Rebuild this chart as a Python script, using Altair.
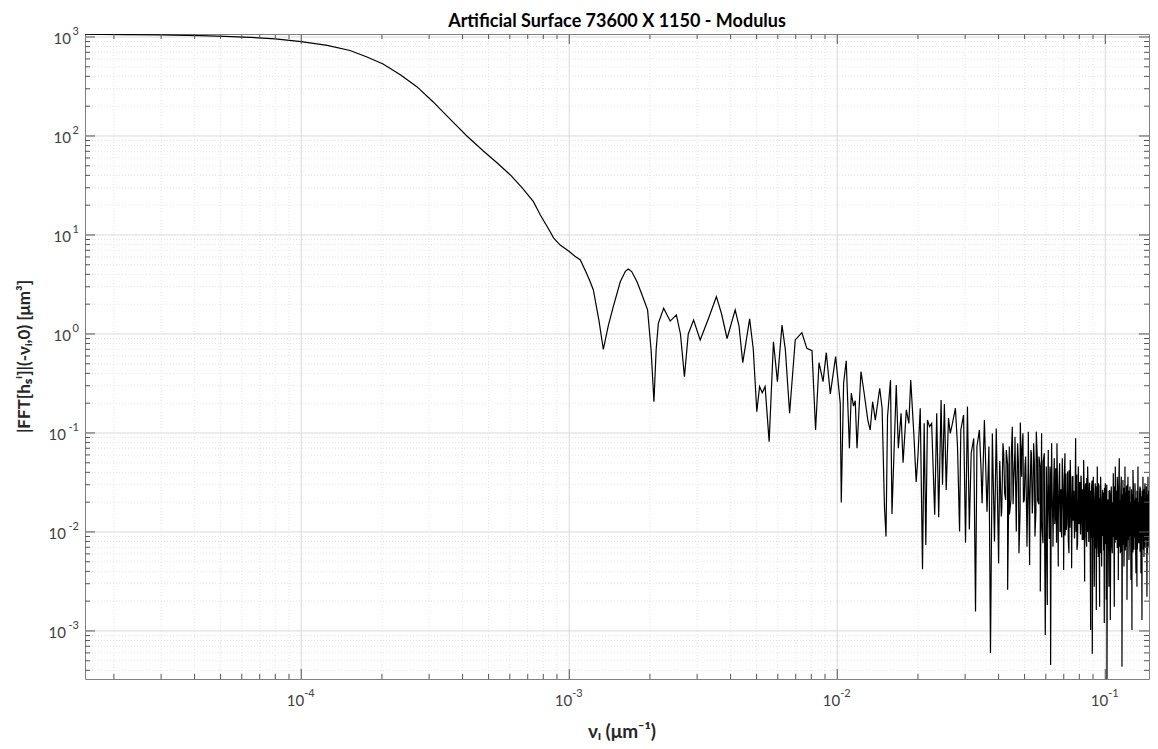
import altair as alt
import pandas as pd

# ---------------- data ----------------
# smooth low-frequency part
nu_smooth = [1.56e-5, 1.78e-5, 2.2e-5, 3.0e-5, 4.2e-5, 5.2e-5, 6.45e-5, 8.0e-5, 1.0e-4,
             1.25e-4, 1.52e-4, 1.75e-4, 2.02e-4, 2.35e-4, 2.70e-4, 3.1e-4, 3.6e-4,
             4.15e-4, 4.78e-4, 5.4e-4, 6.03e-4, 6.7e-4, 7.35e-4, 7.8e-4, 8.28e-4,
             8.75e-4, 9.25e-4, 1.0e-3, 1.05e-3]
mod_smooth = [1066, 1062, 1055, 1048, 1030, 1016, 993, 955, 897,
              824, 730, 632, 534, 413, 315, 222, 147,
              100, 70.5, 53, 40.4, 29.6, 21.7, 15.9, 12.1,
              9.3, 7.9, 6.8, 6.1]

# first oscillations
nu_osc = [1.10e-3, 1.16e-3, 1.197e-3, 1.23e-3, 1.29e-3, 1.34e-3, 1.40e-3, 1.46e-3, 1.55e-3,
          1.62e-3, 1.66e-3, 1.71e-3, 1.79e-3, 1.87e-3, 1.96e-3, 2.02e-3, 2.07e-3, 2.11e-3,
          2.15e-3, 2.25e-3,
          2.38e-3, 2.51e-3, 2.60e-3, 2.69e-3, 2.78e-3, 2.91e-3, 3.08e-3, 3.31e-3, 3.54e-3,
          3.70e-3, 3.88e-3, 4.16e-3, 4.30e-3, 4.44e-3, 4.71e-3, 4.86e-3, 5.01e-3, 5.13e-3,
          5.25e-3, 5.38e-3, 5.57e-3, 5.78e-3, 5.98e-3, 6.22e-3, 6.40e-3, 6.64e-3, 6.97e-3,
          7.38e-3, 7.70e-3, 8.05e-3, 8.30e-3, 8.55e-3, 8.85e-3, 9.10e-3, 9.42e-3, 9.86e-3,
          1.026e-2]
mod_osc = [5.6, 4.1, 3.37, 2.78, 1.38, 0.70, 1.23, 1.89, 3.37,
           4.3, 4.54, 4.27, 3.37, 2.48, 1.75, 0.69, 0.207, 0.7,
           1.28, 1.82,
           1.35, 1.56, 1.0, 0.371, 1.0, 1.38, 0.87, 1.44, 2.38,
           1.6, 0.90, 1.75, 1.2, 0.514, 1.42, 0.7, 0.164, 0.294,
           0.255, 0.294, 0.0817, 0.835, 0.33, 1.23, 0.7, 0.158, 0.87,
           1.03, 0.716, 0.678, 0.107, 0.513, 0.33, 0.647, 0.248, 0.59,
           0.2]

# mid-frequency noise
nu_mid = [1.035e-2, 1.056e-2, 1.08e-2, 1.11e-2, 1.128e-2, 1.15e-2, 1.167e-2, 1.185e-2,
          1.226e-2, 1.26e-2, 1.30e-2, 1.327e-2, 1.355e-2, 1.387e-2, 1.44e-2, 1.47e-2,
          1.50e-2, 1.52e-2, 1.54e-2, 1.58e-2, 1.60e-2, 1.66e-2, 1.69e-2, 1.73e-2,
          1.76e-2, 1.81e-2, 1.85e-2, 1.88e-2, 1.93e-2, 1.97e-2, 2.00e-2, 2.04e-2,
          2.08e-2, 2.11e-2, 2.14e-2, 2.17e-2, 2.21e-2, 2.25e-2, 2.31e-2, 2.35e-2,
          2.39e-2, 2.44e-2, 2.47e-2, 2.51e-2, 2.55e-2, 2.60e-2, 2.64e-2, 2.69e-2,
          2.76e-2, 2.81e-2, 2.86e-2, 2.89e-2, 2.96e-2, 3.01e-2, 3.06e-2, 3.11e-2,
          3.16e-2, 3.23e-2, 3.28e-2, 3.32e-2, 3.39e-2, 3.44e-2, 3.47e-2, 3.54e-2,
          3.62e-2, 3.68e-2, 3.73e-2, 3.79e-2, 3.86e-2, 3.92e-2, 4.00e-2]
mod_mid = [0.0198, 0.318, 0.537, 0.070, 0.252, 0.187, 0.212, 0.070,
           0.416, 0.252, 0.135, 0.107, 0.207, 0.135, 0.283, 0.178,
           0.018, 0.0090, 0.146, 0.343, 0.0152, 0.305, 0.070, 0.158,
           0.050, 0.171, 0.125, 0.343, 0.099, 0.032, 0.058, 0.178,
           0.0042, 0.125, 0.0074, 0.135, 0.116, 0.125, 0.0149, 0.158,
           0.0141, 0.215, 0.030, 0.196, 0.0266, 0.141, 0.099, 0.125,
           0.178, 0.073, 0.0101, 0.107, 0.152, 0.0078, 0.185, 0.0106,
           0.0624, 0.088, 0.00157, 0.073, 0.107, 0.0423, 0.0195, 0.135,
           0.016, 0.073, 0.0006, 0.099, 0.008, 0.111, 0.0048]

# high-frequency noise: resolved spikes
nu_high = [0.04035, 0.04093, 0.04152, 0.04212, 0.04272, 0.04322, 0.04384, 0.04447, 0.04499,
           0.0455, 0.04603, 0.04656, 0.04709, 0.04764, 0.04819, 0.04874, 0.0493, 0.04987,
           0.05045, 0.05103, 0.05161, 0.05221, 0.05281, 0.05342, 0.05404, 0.05466, 0.05529,
           0.05592, 0.05657, 0.05722, 0.05788, 0.05855, 0.05922, 0.05973, 0.06025, 0.06077,
           0.06129, 0.06182, 0.06218, 0.06253, 0.06307, 0.0638, 0.06453, 0.06528, 0.06603,
           0.06679, 0.06756, 0.06834, 0.06913, 0.06992, 0.07073, 0.07154, 0.07237, 0.0732,
           0.07404, 0.0749, 0.07576, 0.07663, 0.07751, 0.07841, 0.07931, 0.08023, 0.08115,
           0.08208, 0.08303, 0.08375, 0.08447, 0.0852, 0.08593, 0.08667, 0.08742, 0.08818,
           0.08894, 0.08945, 0.09022, 0.091, 0.09178, 0.09258, 0.09337, 0.09418, 0.09472,
           0.09527, 0.09609, 0.09692, 0.09775, 0.0986, 0.09888, 0.09916, 0.10002, 0.10088,
           0.10117, 0.10146, 0.10234, 0.10322, 0.10381, 0.10441, 0.10531, 0.10622, 0.10713,
           0.10806, 0.10899, 0.10993, 0.11088, 0.11184, 0.1128, 0.11377, 0.11476, 0.11542,
           0.11641, 0.11742, 0.11843, 0.11945, 0.11996, 0.12048, 0.12152, 0.12257, 0.12363,
           0.12469, 0.12523, 0.12577, 0.12685, 0.12795, 0.12905, 0.13017, 0.13073, 0.13129,
           0.13242, 0.13357, 0.13472, 0.13588, 0.13647, 0.13705, 0.13823, 0.13943, 0.14063,
           0.14184, 0.14245, 0.14307, 0.1443, 0.14555, 0.1468, 0.14807, 0.14935, 0.15064,
           0.15194, 0.15325, 0.15391, 0.15457, 0.1559, 0.15725]
mod_high = [0.0457, 0.0143, 0.0786, 0.0246, 0.0673, 0.0026, 0.0728, 0.021, 0.1158,
            0.031, 0.0918, 0.0101, 0.0786, 0.0061, 0.1272, 0.0362, 0.0992, 0.021,
            0.0577, 0.0071, 0.1031, 0.00464, 0.0673, 0.0154, 0.0786, 0.009, 0.1031,
            0.021, 0.0577, 0.0025, 0.0992, 0.0077, 0.0623, 0.00091, 0.0457, 0.00183,
            0.0673, 0.0143, 0.0457, 0.000453, 0.0786, 0.0071, 0.0555, 0.0167, 0.0786,
            0.00447, 0.0494, 0.0113, 0.0555, 0.00413, 0.0623, 0.0105, 0.0407, 0.0061,
            0.0534, 0.0043, 0.0362, 0.0122, 0.0884, 0.0066, 0.0457, 0.0154, 0.0362,
            0.0083, 0.0534, 0.00315, 0.031, 0.0071, 0.0457, 0.0113, 0.031, 0.00102,
            0.0287, 0.00059, 0.0362, 0.0028, 0.031, 0.00163, 0.0457, 0.0056, 0.0287,
            0.00176, 0.0362, 0.00447, 0.0266, 0.0066, 0.021, 0.0012, 0.031, 0.00206,
            0.018, 0.00025, 0.021, 0.0028, 0.0266, 0.00129, 0.0287, 0.0061, 0.0391,
            0.00176, 0.0457, 0.0083, 0.0362, 0.00327, 0.0555, 0.0061, 0.0362, 0.000436,
            0.0335, 0.00447, 0.0457, 0.0071, 0.0287, 0.00206, 0.0362, 0.0052, 0.0287,
            0.00327, 0.021, 0.00102, 0.0423, 0.0066, 0.031, 0.00382, 0.021, 0.0028,
            0.0457, 0.0077, 0.0287, 0.00382, 0.021, 0.00129, 0.0362, 0.0056, 0.031,
            0.0083, 0.021, 0.00222, 0.0362, 0.0071, 0.0287, 0.00447, 0.0335, 0.0066,
            0.0266, 0.00382, 0.0227, 0.00069, 0.0246, 0.0097]

# high-frequency noise: the dense unresolved band between the spikes
nu_band1 = [0.0404, 0.0411, 0.0418, 0.0425, 0.0432, 0.0439, 0.0446, 0.0453, 0.0460, 0.0467,
            0.0474, 0.0481, 0.0488, 0.0495, 0.0502, 0.0509, 0.0516, 0.0523, 0.0530, 0.0537,
            0.0544, 0.0551, 0.0558, 0.0565, 0.0572, 0.0579, 0.0586, 0.0593]
mod_band1 = [0.052, 0.017, 0.061, 0.021, 0.048, 0.015, 0.058, 0.019, 0.066, 0.023,
             0.050, 0.016, 0.057, 0.020, 0.047, 0.014, 0.055, 0.018, 0.062, 0.022,
             0.049, 0.016, 0.053, 0.019, 0.045, 0.013, 0.051, 0.017]

nu_band2 = [0.0603, 0.0608, 0.0613, 0.0618, 0.0623, 0.0628, 0.0633, 0.0638, 0.0643, 0.0648,
            0.0653, 0.0658, 0.0663, 0.0668, 0.0673, 0.0678, 0.0683, 0.0688, 0.0693, 0.0698,
            0.0703, 0.0708, 0.0713, 0.0718, 0.0723, 0.0728, 0.0733, 0.0738, 0.0743, 0.0748,
            0.0753, 0.0758, 0.0763, 0.0768, 0.0773, 0.0778, 0.0783, 0.0788, 0.0793, 0.0798,
            0.0803, 0.0808, 0.0813, 0.0818, 0.0823, 0.0828, 0.0833, 0.0838, 0.0843, 0.0848,
            0.0853, 0.0858, 0.0863, 0.0868, 0.0873, 0.0878, 0.0883, 0.0888, 0.0893, 0.0898]
mod_band2 = [0.038, 0.011, 0.032, 0.0085, 0.041, 0.014, 0.029, 0.0095, 0.035, 0.012,
             0.044, 0.0078, 0.031, 0.013, 0.036, 0.010, 0.027, 0.0088, 0.040, 0.015,
             0.033, 0.0092, 0.039, 0.012, 0.028, 0.0081, 0.042, 0.011, 0.030, 0.0098,
             0.036, 0.013, 0.026, 0.0086, 0.034, 0.010, 0.038, 0.0075, 0.029, 0.012,
             0.032, 0.0094, 0.037, 0.011, 0.027, 0.0083, 0.033, 0.013, 0.030, 0.0089,
             0.035, 0.010, 0.028, 0.0079, 0.031, 0.012, 0.026, 0.0087, 0.033, 0.0096]

nu_band3 = [0.0903, 0.0908, 0.0913, 0.0918, 0.0923, 0.0928, 0.0933, 0.0938, 0.0943, 0.0948,
            0.0953, 0.0958, 0.0963, 0.0968, 0.0973, 0.0978, 0.0983, 0.0988, 0.0993, 0.0998,
            0.1003, 0.1008, 0.1013, 0.1018, 0.1023, 0.1028, 0.1033, 0.1038, 0.1043, 0.1048,
            0.1053, 0.1058, 0.1063, 0.1068, 0.1073, 0.1078, 0.1083, 0.1088, 0.1093, 0.1098,
            0.1103, 0.1108, 0.1113, 0.1118, 0.1123, 0.1128, 0.1133, 0.1138, 0.1143, 0.1148,
            0.1153, 0.1158, 0.1163, 0.1168, 0.1173, 0.1178, 0.1183, 0.1188, 0.1193, 0.1198,
            0.1203, 0.1208, 0.1213, 0.1218, 0.1223, 0.1228, 0.1233, 0.1238, 0.1243, 0.1248,
            0.1253, 0.1258, 0.1263, 0.1268, 0.1273, 0.1278, 0.1283, 0.1288, 0.1293, 0.1298,
            0.1303, 0.1308, 0.1313, 0.1318, 0.1323, 0.1328, 0.1333, 0.1338, 0.1343, 0.1348,
            0.1353, 0.1358, 0.1363, 0.1368, 0.1373, 0.1378, 0.1383, 0.1388, 0.1393, 0.1398,
            0.1403, 0.1408, 0.1413, 0.1418, 0.1423, 0.1428, 0.1433, 0.1438, 0.1443, 0.1448,
            0.1453, 0.1458, 0.1463, 0.1468, 0.1473, 0.1478, 0.1483, 0.1488, 0.1493, 0.1498,
            0.1503, 0.1508, 0.1513, 0.1518, 0.1523, 0.1528, 0.1533, 0.1538, 0.1543, 0.1548,
            0.1553]
mod_band3 = [0.026, 0.0082, 0.021, 0.0068, 0.029, 0.0095, 0.024, 0.0072, 0.031, 0.0088,
             0.022, 0.0061, 0.027, 0.0079, 0.019, 0.0091, 0.025, 0.0066, 0.028, 0.0075,
             0.024, 0.0085, 0.030, 0.0070, 0.021, 0.0093, 0.026, 0.0064, 0.023, 0.0081,
             0.028, 0.0073, 0.020, 0.0089, 0.025, 0.0067, 0.029, 0.0078, 0.022, 0.0096,
             0.026, 0.0069, 0.023, 0.0084, 0.030, 0.0071, 0.021, 0.0090, 0.027, 0.0063,
             0.024, 0.0080, 0.019, 0.0074, 0.028, 0.0087, 0.022, 0.0065, 0.025, 0.0093,
             0.029, 0.0076, 0.021, 0.0083, 0.026, 0.0068, 0.023, 0.0091, 0.020, 0.0072,
             0.027, 0.0086, 0.024, 0.0062, 0.028, 0.0079, 0.021, 0.0088, 0.025, 0.0070,
             0.022, 0.0094, 0.026, 0.0067, 0.030, 0.0077, 0.020, 0.0085, 0.024, 0.0063,
             0.028, 0.0081, 0.023, 0.0073, 0.026, 0.0090, 0.021, 0.0066, 0.027, 0.0084,
             0.025, 0.0069, 0.022, 0.0087, 0.029, 0.0075, 0.024, 0.0061, 0.020, 0.0092,
             0.026, 0.0078, 0.023, 0.0070, 0.027, 0.0086, 0.021, 0.0074, 0.025, 0.0065,
             0.024, 0.0083, 0.028, 0.0068, 0.022, 0.0089, 0.026, 0.0072, 0.023, 0.0080,
             0.025]

# axis ticks
x_major_exp = [-4, -3, -2, -1]
y_major_exp_neg = [-3, -2, -1]
y_major_exp_pos = [0, 1, 2, 3]

TITLE = "Artificial Surface 73600 X 1150 - Modulus"
XTITLE = "νᵢ (μm⁻¹)"
YTITLE = "|FFT[hₛⁱ]|(-νᵢ,0) [μm³]"

X_DOMAIN = [1.56e-5, 0.1456]
Y_DOMAIN = [3.27e-4, 1072]

# ---------------- build ----------------
W, H = 1064, 645
FONT = "Lato"
LABEL_COLOR = "#404040"

df = pd.DataFrame({
    "nu": nu_smooth + nu_osc + nu_mid + nu_high + nu_band1 + nu_band2 + nu_band3,
    "mod": mod_smooth + mod_osc + mod_mid + mod_high + mod_band1 + mod_band2 + mod_band3,
}).sort_values("nu")

xs = alt.Scale(type="log", domain=X_DOMAIN, nice=False)
ys = alt.Scale(type="log", domain=Y_DOMAIN, nice=False)

x_major = [10.0 ** k for k in x_major_exp]
y_major = [10.0 ** k for k in y_major_exp_neg + y_major_exp_pos]
x_minor = [m * 10.0 ** k for k in range(-5, 0) for m in range(2, 10)
           if X_DOMAIN[0] < m * 10.0 ** k < X_DOMAIN[1]]
y_minor = [m * 10.0 ** k for k in range(-4, 3) for m in range(2, 10)
           if Y_DOMAIN[0] < m * 10.0 ** k < Y_DOMAIN[1]]

dxmaj = pd.DataFrame({"v": x_major, "e": [str(k) for k in x_major_exp]})
dymaj = pd.DataFrame({"v": y_major})
dxmin = pd.DataFrame({"v": x_minor})
dymin = pd.DataFrame({"v": y_minor})
dyneg = pd.DataFrame({"v": [10.0 ** k for k in y_major_exp_neg],
                      "e": [str(k) for k in y_major_exp_neg]})
dypos = pd.DataFrame({"v": [10.0 ** k for k in y_major_exp_pos],
                      "e": [str(k) for k in y_major_exp_pos]})
dtitles = pd.DataFrame({"xt": [XTITLE], "yt": [YTITLE]})

X = lambda f: alt.X(f, type="quantitative", scale=xs, axis=None)
Y = lambda f: alt.Y(f, type="quantitative", scale=ys, axis=None)

line = alt.Chart(df).mark_line(color="#000000", strokeWidth=1.2, clip=True).encode(
    x=X("nu"), y=Y("mod"))

grid_minor_x = alt.Chart(dxmin).mark_rule(color="#e4e4e4", strokeWidth=1,
                                          strokeDash=[1, 2]).encode(x=X("v"))
grid_minor_y = alt.Chart(dymin).mark_rule(color="#e4e4e4", strokeWidth=1,
                                          strokeDash=[1, 2]).encode(y=Y("v"))
grid_major_x = alt.Chart(dxmaj).mark_rule(color="#dadada", strokeWidth=1).encode(x=X("v"))
grid_major_y = alt.Chart(dymaj).mark_rule(color="#dadada", strokeWidth=1).encode(y=Y("v"))

TC = "#555555"
MAJ, MIN = 10, 5
ticks = [
    alt.Chart(dxmaj).mark_rule(color=TC).encode(x=X("v"), y=alt.value(H), y2=alt.value(H - MAJ)),
    alt.Chart(dxmaj).mark_rule(color=TC).encode(x=X("v"), y=alt.value(0), y2=alt.value(MAJ)),
    alt.Chart(dxmin).mark_rule(color=TC).encode(x=X("v"), y=alt.value(H), y2=alt.value(H - MIN)),
    alt.Chart(dxmin).mark_rule(color=TC).encode(x=X("v"), y=alt.value(0), y2=alt.value(MIN)),
    alt.Chart(dymaj).mark_rule(color=TC).encode(y=Y("v"), x=alt.value(0), x2=alt.value(MAJ)),
    alt.Chart(dymaj).mark_rule(color=TC).encode(y=Y("v"), x=alt.value(W), x2=alt.value(W - MAJ)),
    alt.Chart(dymin).mark_rule(color=TC).encode(y=Y("v"), x=alt.value(0), x2=alt.value(MIN)),
    alt.Chart(dymin).mark_rule(color=TC).encode(y=Y("v"), x=alt.value(W), x2=alt.value(W - MIN)),
]

# tick labels: "10" plus raised exponent
xl_base = alt.Chart(dxmaj).mark_text(font=FONT, fontSize=15, color=LABEL_COLOR, align="right",
                                     baseline="alphabetic", dx=3).encode(
    x=X("v"), y=alt.value(H + 27), text=alt.value("10"))
xl_exp = alt.Chart(dxmaj).mark_text(font=FONT, fontSize=11, color=LABEL_COLOR, align="left",
                                    baseline="alphabetic", dx=3).encode(
    x=X("v"), y=alt.value(H + 18), text="e:N")

def ylabels(d, off):
    base = alt.Chart(d).mark_text(font=FONT, fontSize=15, color=LABEL_COLOR, align="right",
                                  baseline="alphabetic", dy=7.5).encode(
        y=Y("v"), x=alt.value(-6 - off), text=alt.value("10"))
    exp = alt.Chart(d).mark_text(font=FONT, fontSize=11, color=LABEL_COLOR, align="right",
                                 baseline="alphabetic", dy=-1.5).encode(
        y=Y("v"), x=alt.value(-6), text="e:N")
    return [base, exp]

x_title = alt.Chart(dtitles).mark_text(font=FONT, fontSize=19, fontWeight="bold",
                                       color="#262626", align="center", baseline="middle").encode(
    x=alt.value(537), y=alt.value(H + 53), text="xt:N")
y_title = alt.Chart(dtitles).mark_text(font=FONT, fontSize=17, fontWeight="bold",
                                       color="#262626", align="center", baseline="middle",
                                       angle=270).encode(
    x=alt.value(-60), y=alt.value(H / 2), text="yt:N")

chart = alt.layer(
    grid_minor_x, grid_minor_y, grid_major_x, grid_major_y, line, *ticks,
    xl_base, xl_exp, *ylabels(dyneg, 13), *ylabels(dypos, 8), x_title, y_title,
).properties(
    width=W, height=H,
    title=alt.TitleParams(TITLE, font=FONT, fontSize=18, fontWeight="bold", color="#000000",
                          anchor="middle", offset=-5),
    autosize=alt.AutoSizeParams(type="none"),
    padding={"left": 77, "top": 26, "right": 1, "bottom": 62},
).configure_view(stroke="#808080", strokeWidth=1)

chart.save("out.html", embed_options={"renderer": "svg", "actions": False})
